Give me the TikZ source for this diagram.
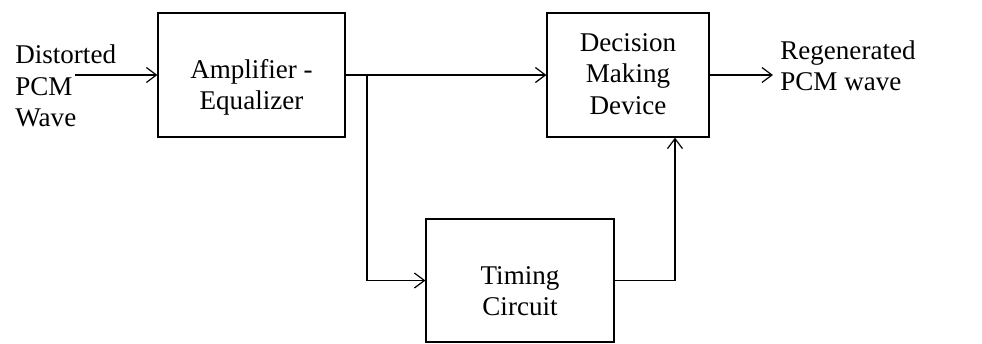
\documentclass[tikz,border=0pt]{standalone}
\usepackage{fontspec}
\setmainfont{Liberation Serif}
\usepackage{tikz}
\usetikzlibrary{arrows.meta, positioning}
\tikzset{
  block/.style={rectangle, draw=black, line width=0.7pt},
  caption/.style={align=center, font=\fontsize{15.4}{18}\selectfont},
  label/.style={align=left, inner sep=0pt, font=\fontsize{15.4}{17.8}\selectfont},
  arrow/.style={-{Straight Barb[length=2mm, width=3mm, line width=0.7pt]}, line width=0.7pt}
}

\begin{document}
\begin{tikzpicture}[x=0.02cm, y=0.02cm]
  \useasboundingbox (0,0) rectangle (982,343);
  \node[block, minimum width=3.74cm, minimum height=2.48cm] (amp) at (251.5,268) {};
  \node[block, minimum width=3.24cm, minimum height=2.48cm] (dec) at (628,268) {};
  \node[block, minimum width=3.76cm, minimum height=2.46cm] (tim) at (520,62.5) {};
  \node[caption] (amptext) at ([yshift=-0.25cm]amp.center) {Amplifier -\\Equalizer};
  \node[caption] (dectext) at ([yshift=0.02cm]dec.center) {Decision\\Making\\Device};
  \node[caption] (timtext) at ([yshift=-0.21cm]tim.center) {Timing\\Circuit};
  \node[label, anchor=west] (in) at (15,257) {Distorted\\PCM\\Wave};
  \node[label, anchor=west] (out) at (780,277) {Regenerated\\PCM wave};
  \coordinate (src) at (75,268);
  \coordinate (split) at (367,268);
  \draw[arrow] (src) -- (amp.west);
  \draw[arrow] (amp.east) -- (dec.west);
  \draw[arrow] (split) |- (tim.west);
  \draw[arrow] (tim.east) -| ([xshift=0.94cm]dec.south);
  \draw[arrow] (dec.east) -- ([xshift=-4pt]out.west |- dec.east);
\end{tikzpicture}
\end{document}
